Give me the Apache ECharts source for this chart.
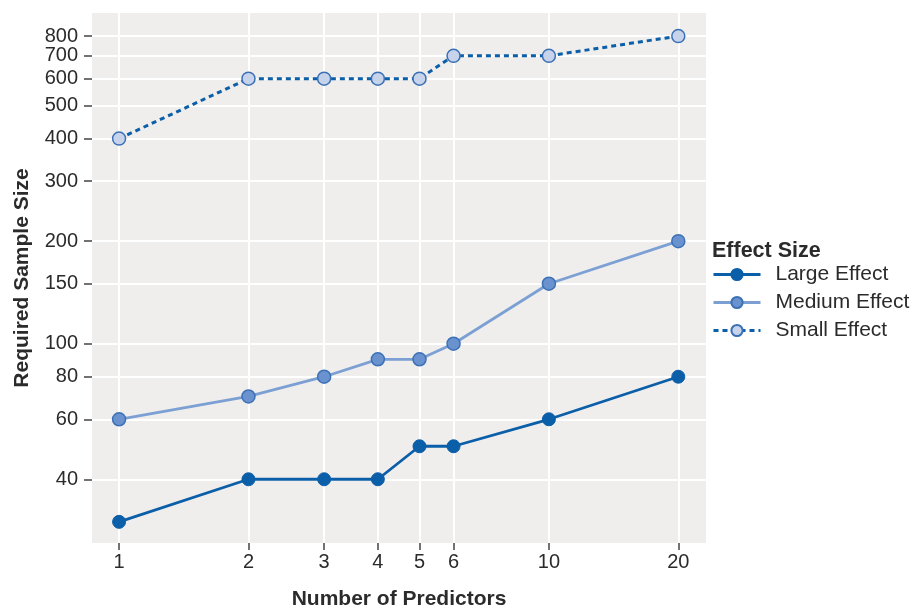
<!DOCTYPE html>
<html>
<head>
<meta charset="utf-8">
<script src="https://cdn.jsdelivr.net/npm/echarts@6/dist/echarts.min.js"></script>
<style>
  html, body { margin: 0; padding: 0; background: #ffffff; }
  #chart { width: 917px; height: 611px; }
</style>
</head>
<body>
<div id="chart"></div>
<script>
// Number of predictors (log-scaled x axis)
const predictors = [1, 2, 3, 4, 5, 6, 10, 20];

// Required sample size per effect size
const largeEffect  = [30, 40, 40, 40, 50, 50, 60, 80];
const mediumEffect = [60, 70, 80, 90, 90, 100, 150, 200];
const smallEffect  = [400, 600, 600, 600, 600, 700, 700, 800];

// Tick labels
const xTicks = [1, 2, 3, 4, 5, 6, 10, 20];
const yTicks = [40, 60, 80, 100, 150, 200, 300, 400, 500, 600, 700, 800];

const seriesNames = ['Large Effect', 'Medium Effect', 'Small Effect'];

const FONT = '"Liberation Sans", Arial, Helvetica, sans-serif';
const TEXT = '#2b2b2b';
const Y_MIN = 26;
const Y_MAX = 935;

function pairs(ys) {
  return predictors.map((x, i) => [x, ys[i]]);
}

// The top tick sits close to its neighbour, so it is drawn by a twin axis
// sharing the same log scale; this keeps ECharts' overlap pruning from
// dropping either label.
const topTick = yTicks[yTicks.length - 1];
const lowerTicks = yTicks.slice(0, -1);

function yAxisLabel(values) {
  return {
    customValues: values,
    margin: 14,
    hideOverlap: false,
    fontFamily: FONT,
    fontSize: 20,
    lineHeight: 16,
    color: TEXT,
    formatter: v => String(v)
  };
}
const yTickStyle = (values) => ({
  show: true,
  customValues: values,
  length: 8,
  lineStyle: { color: '#444444', width: 1.5 }
});

const chart = echarts.init(document.getElementById('chart'), null, { renderer: 'canvas' });

chart.setOption({
  animation: false,
  backgroundColor: '#ffffff',
  textStyle: { fontFamily: FONT },
  title: {
    text: 'Effect Size',
    left: 712,
    top: 240,
    padding: 0,
    textStyle: { fontFamily: FONT, fontSize: 21.5, fontWeight: 'bold', color: TEXT }
  },
  legend: {
    orient: 'vertical',
    left: 712,
    top: 263,
    padding: 0,
    itemWidth: 47,
    itemHeight: 14,
    itemGap: 5,
    data: seriesNames,
    lineStyle: { width: 3 },
    textStyle: {
      fontFamily: FONT,
      fontSize: 21,
      color: TEXT,
      padding: [0, 0, 0, 10],
      lineHeight: 23
    }
  },
  grid: {
    left: 92,
    right: 211,
    top: 13,
    bottom: 68,
    outerBoundsMode: 'none',
    containLabel: false,
    show: true,
    backgroundColor: '#efeeed',
    borderWidth: 0
  },
  xAxis: {
    type: 'log',
    min: 0.865,
    max: 23.2,
    name: 'Number of Predictors',
    nameLocation: 'middle',
    nameGap: 46,
    nameMoveOverlap: false,
    nameTextStyle: { fontFamily: FONT, fontSize: 21, fontWeight: 'bold', color: TEXT },
    axisLine: { show: false },
    axisTick: {
      show: true,
      customValues: xTicks,
      length: 7,
      lineStyle: { color: '#444444', width: 1.5 }
    },
    axisLabel: {
      customValues: xTicks,
      margin: 11,
      hideOverlap: false,
      fontFamily: FONT,
      fontSize: 20,
      lineHeight: 16,
      color: TEXT,
      formatter: v => String(v)
    },
    splitLine: { show: true, lineStyle: { color: '#ffffff', width: 2 } },
    minorSplitLine: { show: false }
  },
  yAxis: [
    {
      type: 'log',
      min: Y_MIN,
      max: Y_MAX,
      position: 'left',
      name: 'Required Sample Size',
      nameLocation: 'middle',
      nameGap: 59,
      nameMoveOverlap: false,
      nameTextStyle: { fontFamily: FONT, fontSize: 21, fontWeight: 'bold', color: TEXT },
      axisLine: { show: false },
      axisTick: yTickStyle(lowerTicks),
      axisLabel: yAxisLabel(lowerTicks),
      splitLine: { show: true, lineStyle: { color: '#ffffff', width: 2 } }
    },
    {
      type: 'log',
      min: Y_MIN,
      max: Y_MAX,
      position: 'left',
      offset: 0,
      axisLine: { show: false },
      axisTick: yTickStyle([topTick]),
      axisLabel: yAxisLabel([topTick]),
      splitLine: { show: true, lineStyle: { color: '#ffffff', width: 2 } }
    }
  ],
  series: [
    {
      name: seriesNames[0],
      type: 'line',
      data: pairs(largeEffect),
      symbol: 'circle',
      symbolSize: 13,
      lineStyle: { color: '#0b5ea8', width: 2.8 },
      itemStyle: { color: '#0b5ea8', borderColor: '#0b5ea8', borderWidth: 1 },
      emphasis: { disabled: true },
      z: 3
    },
    {
      name: seriesNames[1],
      type: 'line',
      data: pairs(mediumEffect),
      symbol: 'circle',
      symbolSize: 13,
      lineStyle: { color: '#7ca0d3', width: 2.8 },
      itemStyle: { color: '#6a92cf', borderColor: '#3c71b6', borderWidth: 1.5 },
      emphasis: { disabled: true },
      z: 2
    },
    {
      name: seriesNames[2],
      type: 'line',
      data: pairs(smallEffect),
      symbol: 'circle',
      symbolSize: 13,
      lineStyle: { color: '#0b5ea8', width: 3, type: [5, 4] },
      itemStyle: { color: '#c7d3ea', borderColor: '#3a70b5', borderWidth: 1.5 },
      emphasis: { disabled: true },
      z: 2
    }
  ]
});
</script>
</body>
</html>
